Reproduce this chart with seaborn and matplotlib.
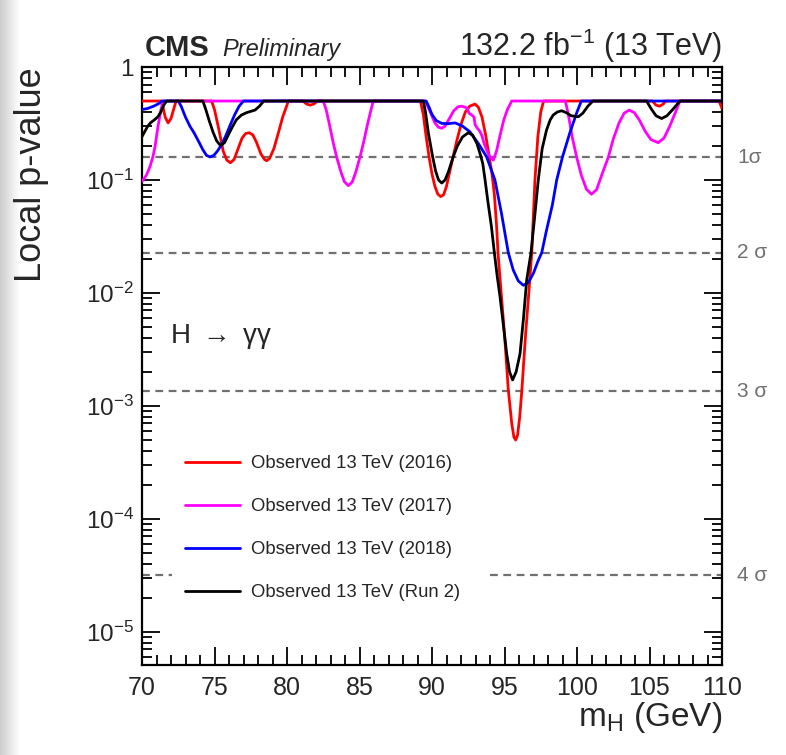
import matplotlib
matplotlib.use("Agg")
import numpy as np
import matplotlib.pyplot as plt
import matplotlib.transforms as mtransforms
from matplotlib.ticker import MultipleLocator, LogLocator, FixedLocator, FixedFormatter, NullFormatter
import seaborn as sns

# Local p-value scans vs. diphoton mass hypothesis (GeV)
mass_2016 = [70.0, 71.3, 71.45, 71.6, 71.8, 72.0, 72.2, 72.35,
             74.8, 75.0, 75.3, 75.6, 75.85, 76.1, 76.35, 76.6, 76.9, 77.15, 77.4, 77.65, 77.9,
             78.2, 78.45, 78.6, 78.8, 79.1, 79.4, 79.7, 80.1,
             81.1, 81.35, 81.6, 81.85, 82.1,
             89.2, 89.4, 89.6, 89.8, 90.0, 90.2, 90.4, 90.6, 90.8, 91.0, 91.2, 91.45, 91.7, 92.0,
             92.3, 92.6, 92.97, 93.2, 93.45, 93.7, 93.95, 94.15, 94.3, 94.45, 94.55, 94.8, 95.0,
             95.26, 95.5, 95.65, 95.77, 95.9, 96.05, 96.2, 96.45, 96.7, 96.88, 97.1, 97.3, 97.5,
             97.7, 105.2, 105.45, 105.7, 105.95, 106.1, 109.8, 110.0]
pval_2016 = [0.5, 0.5, 0.44, 0.36, 0.32, 0.35, 0.43, 0.5,
             0.5, 0.42, 0.28, 0.18, 0.15, 0.142, 0.152, 0.185, 0.235, 0.258, 0.262, 0.25, 0.215,
             0.17, 0.152, 0.148, 0.155, 0.19, 0.26, 0.36, 0.5,
             0.5, 0.47, 0.46, 0.47, 0.5,
             0.5, 0.38, 0.24, 0.159, 0.113, 0.088, 0.075, 0.0713, 0.074, 0.088, 0.115, 0.159, 0.22, 0.31,
             0.4, 0.45, 0.47, 0.44, 0.36, 0.25, 0.16, 0.11, 0.075, 0.04, 0.023, 0.009, 0.0043,
             0.0014, 0.0007, 0.00053, 0.0005, 0.00055, 0.0008, 0.0014, 0.0042, 0.011, 0.0228, 0.1, 0.24, 0.4,
             0.5, 0.5, 0.46, 0.45, 0.47, 0.5, 0.5, 0.43]

mass_2017 = [70.0, 70.3, 70.55, 70.75, 70.9, 71.1, 71.3, 71.45,
             82.5, 82.7, 82.95, 83.2, 83.43, 83.7, 83.95, 84.23, 84.5, 84.75, 85.03, 85.3, 85.55,
             85.8, 85.95,
             89.5, 89.7, 89.95, 90.2, 90.45, 90.67, 90.9, 91.2, 91.5, 91.8, 92.05, 92.3, 92.45,
             92.55, 92.75, 92.9, 92.97, 93.1, 93.3, 93.45, 93.6, 93.8, 94.0, 94.23, 94.45, 94.7,
             94.95, 95.2, 95.5,
             99.2, 99.4, 99.7, 99.98, 100.3, 100.65, 101.0, 101.35, 101.7, 102.16, 102.5, 102.9,
             103.25, 103.6, 103.95, 104.3, 104.7, 105.1, 105.6, 106.0, 106.4, 106.8, 107.1, 110.0]
pval_2017 = [0.097, 0.11, 0.131, 0.16, 0.197, 0.296, 0.416, 0.5,
             0.5, 0.42, 0.3, 0.21, 0.159, 0.12, 0.097, 0.089, 0.096, 0.118, 0.159, 0.22, 0.31,
             0.42, 0.5,
             0.5, 0.45, 0.38, 0.32, 0.293, 0.287, 0.3, 0.35, 0.41, 0.445, 0.45, 0.44, 0.43,
             0.39, 0.376, 0.36, 0.31, 0.29, 0.27, 0.245, 0.21, 0.18, 0.16, 0.15, 0.18, 0.25,
             0.34, 0.42, 0.5,
             0.5, 0.38, 0.23, 0.159, 0.11, 0.083, 0.0748, 0.082, 0.11, 0.159, 0.23, 0.32,
             0.39, 0.416, 0.395, 0.34, 0.27, 0.228, 0.214, 0.235, 0.3, 0.4, 0.5, 0.5]

mass_2018 = [70.0, 70.4, 70.8, 71.1, 71.36,
             72.5, 72.7, 73.0, 73.3, 73.6, 73.9, 74.2, 74.45, 74.7, 74.95, 75.2, 75.5, 75.8, 76.1,
             76.4, 76.7, 77.0,
             89.6, 89.8, 90.0, 90.3, 90.67, 91.1, 91.6, 92.1, 92.6, 93.2, 93.77, 94.1, 94.34, 94.8,
             95.26, 95.6, 95.95, 96.3, 96.65, 97.0, 97.3, 97.57, 97.9, 98.3, 98.6, 99.0, 99.5,
             100.0, 100.3, 110.0]
pval_2018 = [0.42, 0.43, 0.45, 0.47, 0.5,
             0.5, 0.45, 0.36, 0.3, 0.26, 0.22, 0.185, 0.165, 0.16, 0.165, 0.18, 0.207, 0.25, 0.31,
             0.38, 0.45, 0.5,
             0.5, 0.44, 0.38, 0.335, 0.317, 0.315, 0.32, 0.3, 0.268, 0.21, 0.16, 0.122, 0.1, 0.05,
             0.0228, 0.016, 0.0128, 0.0117, 0.0124, 0.015, 0.019, 0.0228, 0.036, 0.06, 0.1, 0.16, 0.26,
             0.4, 0.5, 0.5]

mass_run2 = [70.0, 70.2, 70.4, 70.6, 70.85, 71.1, 71.3, 71.5, 71.7,
             74.2, 74.4, 74.65, 74.9, 75.15, 75.35, 75.5, 75.7, 75.95, 76.2, 76.5, 76.85, 77.2,
             77.5, 77.8, 78.1, 78.4,
             89.4, 89.55, 89.75, 90.05, 90.25, 90.45, 90.67, 90.9, 91.15, 91.45, 91.75, 92.1, 92.5,
             92.8, 93.1, 93.35, 93.5, 93.66, 93.85, 94.1, 94.3, 94.5, 94.69, 94.9, 95.15, 95.35,
             95.56, 95.8, 96.07, 96.3, 96.53, 96.83, 97.1, 97.33, 97.6, 97.9, 98.15, 98.36, 98.65,
             98.94, 99.25, 99.6, 100.1, 100.4, 100.75, 101.1,
             104.8, 105.1, 105.45, 105.84, 106.2, 106.6, 107.1, 110.0]
pval_run2 = [0.242, 0.27, 0.3, 0.322, 0.34, 0.363, 0.4, 0.46, 0.5,
             0.5, 0.42, 0.33, 0.265, 0.222, 0.206, 0.204, 0.215, 0.25, 0.29, 0.34, 0.375, 0.394,
             0.405, 0.416, 0.45, 0.5,
             0.5, 0.4, 0.26, 0.159, 0.12, 0.1, 0.094, 0.1, 0.12, 0.159, 0.2, 0.24, 0.262,
             0.25, 0.21, 0.165, 0.14, 0.1, 0.065, 0.0386, 0.0228, 0.014, 0.0093, 0.0055, 0.0029, 0.002,
             0.0017, 0.002, 0.0029, 0.0058, 0.013, 0.0228, 0.05, 0.1, 0.19, 0.277, 0.34, 0.376, 0.4,
             0.41, 0.395, 0.37, 0.363, 0.39, 0.45, 0.5,
             0.5, 0.43, 0.37, 0.35, 0.37, 0.42, 0.5, 0.5]

series_labels = ["Observed 13 TeV (2016)", "Observed 13 TeV (2017)",
                 "Observed 13 TeV (2018)", "Observed 13 TeV (Run 2)"]
series_colors = ["#ff0000", "#ff00ff", "#0000ff", "#000000"]

# Significance reference levels (one-sided local p-values)
sigma_pvals = [0.1587, 0.02275, 0.00135, 3.17e-5]
sigma_labels = ["1\u03c3", "2 \u03c3", "3 \u03c3", "4 \u03c3"]

ytick_vals = [1e-5, 1e-4, 1e-3, 1e-2, 1e-1, 1.0]
ytick_labels = [r"$\mathregular{10^{-5}}$", r"$\mathregular{10^{-4}}$", r"$\mathregular{10^{-3}}$",
                r"$\mathregular{10^{-2}}$", r"$\mathregular{10^{-1}}$", "1"]

sns.set_theme(style="ticks")
plt.rcParams["font.family"] = ["Liberation Sans", "DejaVu Sans"]
plt.rcParams["mathtext.fontset"] = "custom"
plt.rcParams["mathtext.rm"] = "Liberation Sans"
plt.rcParams["mathtext.it"] = "Liberation Sans:italic"
plt.rcParams["mathtext.bf"] = "Liberation Sans:bold"

W, H = 786, 755
fig = plt.figure(figsize=(W / 100, H / 100), dpi=100)
fig.patch.set_facecolor("white")

# soft grey margin along the left edge of the page
edge = fig.add_axes([0, 0, 20 / W, 1], zorder=-5)
edge.imshow(np.linspace(0.80, 1.0, 64)[None, :], cmap="gray", vmin=0, vmax=1,
            aspect="auto", extent=(0, 1, 0, 1))
edge.set_axis_off()

ax = fig.add_axes([142 / W, 90 / H, 580 / W, 598 / H])
ax.set_facecolor("white")

ax.set_yscale("log")
ax.set_xlim(70, 110)
ax.set_ylim(5.1e-6, 1.0)

# dashed significance lines; the 4 sigma one is interrupted behind the legend
dash_kw = dict(color="#707070", lw=1.6, ls=(0, (3.5, 2.5)), zorder=1)
for p in sigma_pvals[:3]:
    ax.axhline(p, **dash_kw)
ax.axhline(sigma_pvals[3], xmin=0.0, xmax=2.05 / 40, **dash_kw)
ax.axhline(sigma_pvals[3], xmin=24.0 / 40, xmax=1.0, **dash_kw)

series = [(mass_2016, pval_2016), (mass_2017, pval_2017), (mass_2018, pval_2018), (mass_run2, pval_run2)]
for (m, p), lab, col in zip(series, series_labels, series_colors):
    sns.lineplot(x=m, y=p, ax=ax, color=col, lw=2.0, label=lab, sort=False, estimator=None, zorder=3)

# axes styling
ax.xaxis.set_major_locator(MultipleLocator(5))
ax.xaxis.set_minor_locator(MultipleLocator(1))
ax.yaxis.set_major_locator(FixedLocator(ytick_vals))
ax.yaxis.set_major_formatter(FixedFormatter(ytick_labels))
ax.yaxis.set_minor_locator(LogLocator(base=10, subs=np.arange(2, 10), numticks=20))
ax.yaxis.set_minor_formatter(NullFormatter())
ax.tick_params(axis="both", which="both", direction="in", bottom=True, top=True,
               left=True, right=True, color="black", width=1.3)
ax.tick_params(which="major", length=13)
ax.tick_params(which="minor", length=7)
ax.tick_params(axis="x", which="major", labelsize=18, pad=8)
ax.tick_params(axis="y", which="major", labelsize=17.5, pad=6)
for s in ax.spines.values():
    s.set_linewidth(1.6)
    s.set_color("black")

ax.set_xlabel(r"$\mathregular{m_{H}}$ (GeV)", fontsize=24, loc="right")
ax.xaxis.set_label_coords(1.0, -0.058)
ax.set_ylabel("Local p-value", fontsize=26, loc="top")
ax.yaxis.set_label_coords(-0.16, 1.0)

# header
ax.text(0.004, 1.018, "CMS", transform=ax.transAxes, fontsize=21, fontweight="bold",
        ha="left", va="baseline")
ax.text(0.138, 1.018, "Preliminary", transform=ax.transAxes, fontsize=17, fontstyle="italic",
        ha="left", va="baseline")
ax.text(1.0, 1.018, r"132.2 fb$^{\mathregular{-1}}$ (13 TeV)", transform=ax.transAxes,
        fontsize=22, ha="right", va="baseline")

ax.text(0.048, 0.55, r"H $\rightarrow$ $\mathregular{\gamma\gamma}$", transform=ax.transAxes,
        fontsize=20, ha="left", va="center")

# sigma labels outside the right axis
trans = mtransforms.blended_transform_factory(ax.transAxes, ax.transData)
for p, lab in zip(sigma_pvals, sigma_labels):
    ax.text(1.026, p, lab, transform=trans, fontsize=15, color="#707070", ha="left", va="center")

leg = ax.legend(loc="upper left", bbox_to_anchor=(185 / W, 1 - 455.5 / H),
                bbox_transform=fig.transFigure, frameon=False, fontsize=13.3,
                handlelength=3.0, handletextpad=0.55, labelspacing=1.4,
                borderpad=0, borderaxespad=0)
for line in leg.get_lines():
    line.set_linewidth(2.0)

fig.savefig("out.png", dpi=100, facecolor="white")
